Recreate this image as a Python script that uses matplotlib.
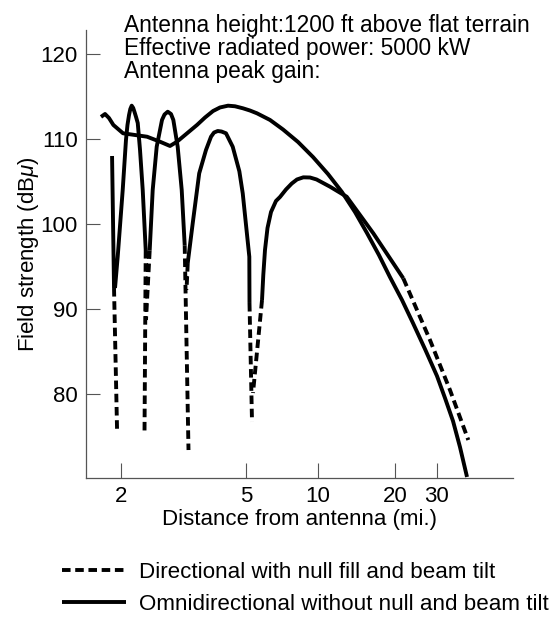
import numpy as np
import matplotlib
matplotlib.use("Agg")
import matplotlib.pyplot as plt
from matplotlib.lines import Line2D

plt.rcParams['font.family'] = ['Liberation Sans', 'DejaVu Sans']
plt.rcParams['mathtext.fontset'] = 'custom'
plt.rcParams['mathtext.rm'] = 'Liberation Sans'
plt.rcParams['mathtext.it'] = 'Liberation Sans:italic'

nan = np.nan

# ---------------- data ----------------
X_TICKS = [2, 5, 10, 20, 30]
X_TICK_LABELS = ['2', '5', '10', '20', '30']
Y_TICKS = [80, 90, 100, 110, 120]
XLIM = (1.547, 62.5)
YLIM = (70.12, 122.82)

# smooth curve (no deep nulls)
smooth_d = [1.727, 1.779, 1.831, 1.891, 2.030, 2.216, 2.420, 2.662, 2.864, 3.015,
            3.491, 3.703, 3.926, 4.133, 4.383, 4.613, 4.891, 5.195, 5.559, 6.30,
            7.14, 8.25, 9.53, 10.94, 12.41, 13.95, 15.54, 17.31, 19.11, 21.40,
            23.79, 26.72, 30.0, 32.41, 35.02, 37.46, 40.09]
smooth_db = [112.6, 112.94, 112.47, 111.65, 110.67, 110.47, 110.27, 109.68, 109.18, 109.68,
             111.65, 112.53, 113.29, 113.71, 113.92, 113.85, 113.61, 113.35, 113.02, 112.24,
             111.12, 109.65, 107.88, 105.88, 103.76, 101.41, 98.94, 96.35, 93.76, 91.06,
             88.35, 85.29, 82.12, 79.53, 76.82, 73.76, 70.24]

# lobed curve, solid parts (NaN separates lobes)
lobed_d = [1.873, 1.900, nan,
           1.914, 1.952, 2.025, 2.074, 2.097, 2.121, 2.141, 2.163, 2.187, 2.208, 2.233,
           2.261, 2.299, 2.345, 2.397, nan,
           2.468, 2.523, 2.598, 2.701, 2.751, 2.817, 2.885, 2.935, 3.030, 3.121, 3.19, nan,
           3.262, 3.383, 3.548, 3.729, 3.869, 3.955, 4.064, 4.178, 4.318, 4.536, 4.762,
           4.882, 5.162, 5.171, nan,
           5.834, 5.906, 6.003, 6.150, 6.361, 6.674, 6.937, 7.347, 7.765, 8.17, 8.682,
           9.26, 9.86, 11.14, 12.95, 16.45, 21.67]
lobed_db = [108.0, 92.47, nan,
            92.47, 96.15, 104.0, 109.88, 111.65, 112.82, 113.53, 113.92, 113.65, 113.18, 112.59,
            111.88, 108.71, 104.0, 96.94, nan,
            96.9, 104.0, 109.09, 112.24, 112.88, 113.21, 112.94, 112.24, 109.09, 104.0, 97.5, nan,
            95.41, 100.08, 105.96, 108.71, 110.27, 110.76, 110.94, 110.88, 110.67, 109.09, 106.2,
            103.6, 96.15, 90.71, nan,
            91.06, 94.0, 96.94, 99.53, 101.41, 102.71, 103.18, 104.06, 104.76, 105.24, 105.49,
            105.47, 105.24, 104.39, 103.21, 98.91, 93.61]

# lobed curve, dashed parts (null depths and far tail)
dashed_d = [1.900, 1.943, nan,
            2.397, 2.376, nan,
            2.468, 2.402, nan,
            3.19, 3.28, nan,
            3.262, 3.233, nan,
            5.171, 5.298, nan,
            5.834, 5.349, nan,
            21.67, 28.04, 34.01, 40.59]
dashed_db = [92.47, 75.76, nan,
             96.94, 75.53, nan,
             96.9, 88.71, nan,
             97.5, 73.41, nan,
             95.41, 92.24, nan,
             90.71, 76.71, nan,
             91.06, 80.12, nan,
             93.61, 86.35, 80.47, 74.59]

header_lines = ['Antenna height:1200 ft above flat terrain',
                'Effective radiated power: 5000 kW',
                'Antenna peak gain:']
legend_labels = ['Directional with null fill and beam tilt',
                 'Omnidirectional without null and beam tilt']

# ------------- non-uniform printed log scale -------------
TICK_POS = np.array([0.0, 125.0, 197.0, 274.0, 316.0])
LOGT = np.log10(np.array(X_TICKS, dtype=float))
S0 = (TICK_POS[1] - TICK_POS[0]) / (LOGT[1] - LOGT[0])
S1 = (TICK_POS[-1] - TICK_POS[-2]) / (LOGT[-1] - LOGT[-2])


def _fwd(x):
    x = np.asarray(x, dtype=float)
    lx = np.log10(np.where(x > 0, x, 1e-9))
    out = np.interp(lx, LOGT, TICK_POS)
    out = np.where(lx < LOGT[0], TICK_POS[0] + (lx - LOGT[0]) * S0, out)
    out = np.where(lx > LOGT[-1], TICK_POS[-1] + (lx - LOGT[-1]) * S1, out)
    return out


def _inv(p):
    p = np.asarray(p, dtype=float)
    lx = np.interp(p, TICK_POS, LOGT)
    lx = np.where(p < TICK_POS[0], LOGT[0] + (p - TICK_POS[0]) / S0, lx)
    lx = np.where(p > TICK_POS[-1], LOGT[-1] + (p - TICK_POS[-1]) / S1, lx)
    return 10 ** lx


# ---------------- figure ----------------
fig = plt.figure(figsize=(5.54, 6.19), dpi=100)
ax = fig.add_axes([0.1552, 0.2278, 0.7708, 0.7237])
ax.set_xscale('function', functions=(_fwd, _inv))

LW = 2.8
DASH = (0, (2.2, 1.2))
ax.plot(smooth_d, smooth_db, color='black', lw=LW, solid_joinstyle='round', solid_capstyle='butt')
ax.plot(lobed_d, lobed_db, color='black', lw=LW, solid_joinstyle='round', solid_capstyle='butt')
ax.plot(dashed_d, dashed_db, color='black', lw=LW, linestyle=DASH, dash_capstyle='butt')

ax.set_xlim(*XLIM)
ax.set_ylim(*YLIM)
ax.set_xticks(X_TICKS)
ax.set_xticklabels(X_TICK_LABELS)
ax.set_yticks(Y_TICKS)
ax.minorticks_off()

SPC = '#555555'
for s in ['top', 'right']:
    ax.spines[s].set_visible(False)
for s in ['left', 'bottom']:
    ax.spines[s].set_color(SPC)
    ax.spines[s].set_linewidth(0.9)
ax.tick_params(axis='y', direction='in', length=10, width=0.8, color=SPC,
               labelsize=16, pad=6, labelcolor='black')
ax.tick_params(axis='x', direction='in', length=11, width=0.8, color=SPC,
               labelsize=16, pad=6, labelcolor='black')

ax.set_xlabel('Distance from antenna (mi.)', fontsize=16)
ax.xaxis.set_label_coords(0.5, -0.069)
ax.set_ylabel(r'Field strength (dB$\mu$)', fontsize=16)
ax.yaxis.set_label_coords(-0.106, 0.5)

for i, line in enumerate(header_lines):
    fig.text(124 / 554, 1 - (32 + 23 * i) / 619, line, fontsize=16.4, va='baseline', ha='left')

handles = [Line2D([], [], color='black', lw=LW, linestyle=DASH, dash_capstyle='butt'),
           Line2D([], [], color='black', lw=LW, solid_capstyle='butt')]
fig.legend(handles, legend_labels, loc='upper left', bbox_to_anchor=(62 / 554, 1 - 562 / 619),
           frameon=False, borderpad=0, borderaxespad=0, handlelength=2.84,
           handletextpad=0.6, labelspacing=0.48, fontsize=16.1)

fig.savefig('out.png', dpi=100)
